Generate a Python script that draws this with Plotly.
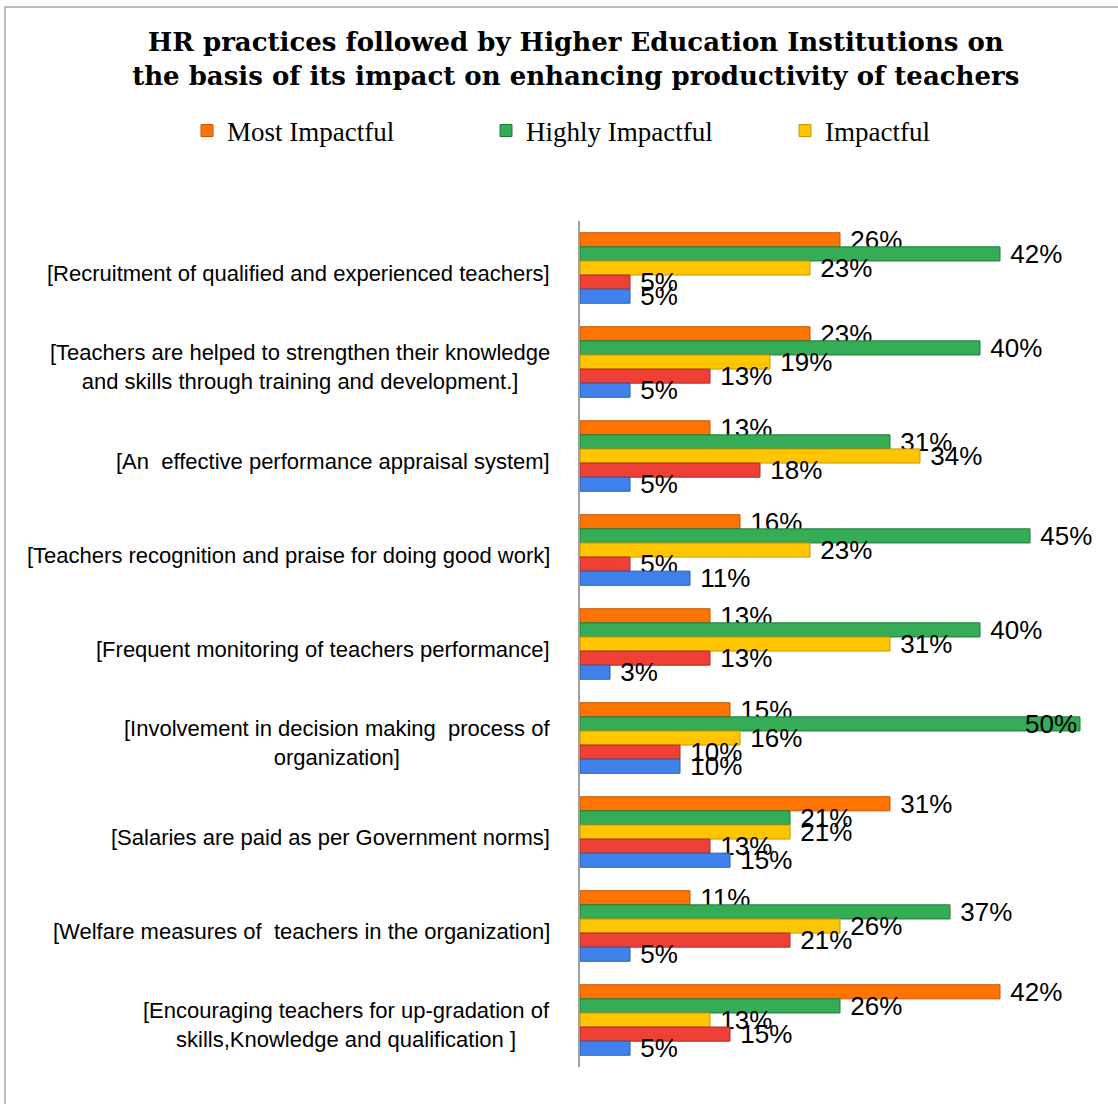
import plotly.graph_objects as go

categories = [
    "[Recruitment of qualified and experienced teachers]",
    "[Teachers are helped to strengthen their knowledge<br>and skills through training and development.]",
    "[An  effective performance appraisal system]",
    "[Teachers recognition and praise for doing good work]",
    "[Frequent monitoring of teachers performance]",
    "[Involvement in decision making  process of<br>organization]",
    "[Salaries are paid as per Government norms]",
    "[Welfare measures of  teachers in the organization]",
    "[Encouraging teachers for up-gradation of<br>skills,Knowledge and qualification ]",
]

most_impactful = [26, 23, 13, 16, 13, 15, 31, 11, 42]
highly_impactful = [42, 40, 31, 45, 40, 50, 21, 37, 26]
impactful = [23, 19, 34, 23, 31, 16, 21, 26, 13]
series4 = [5, 13, 18, 5, 13, 10, 13, 21, 15]
series5 = [5, 5, 5, 11, 3, 10, 15, 5, 5]

series = [
    ("Most Impactful", most_impactful, "#FF7300", "#C55500", True),
    ("Highly Impactful", highly_impactful, "#35AD57", "#1F7A3A", True),
    ("Impactful", impactful, "#FFC600", "#C79600", True),
    ("Less Impactful", series4, "#EE4035", "#A82A22", False),
    ("Least Impactful", series5, "#3F82EC", "#2A5DB0", False),
]

L, R, T, B = 580, 0, 221, 37
W, H = 1118, 1104
pw = W - L - R
ph = H - T - B
XMAX = 53.8

def px2x(px):
    return (px - L) / pw

def px2y(py):
    return (H - B - py) / ph

LBL = dict(family="Liberation Sans, Arial", size=26, color="black")

fig = go.Figure()
for name, vals, col, lcol, show in series:
    tp = ["inside" if v >= 48 else "outside" for v in vals]
    txt = [(f"{v}%" if v >= 48 else f" {v}%") for v in vals]
    fig.add_trace(go.Bar(
        y=categories, x=vals, name=name, orientation="h",
        marker=dict(color=col, line=dict(color=lcol, width=1)),
        text=txt, textposition=tp,
        insidetextanchor="end", constraintext="none",
        textfont=LBL, insidetextfont=LBL, outsidetextfont=LBL,
        cliponaxis=False, showlegend=show,
    ))

annotations = []
for c in categories:
    annotations.append(dict(
        x=px2x(552), xref="paper", y=c, yref="y", xanchor="right", yshift=-5,
        text=c, showarrow=False, align="center",
        font=dict(family="Liberation Sans, Arial", size=22, color="black"),
    ))

fig.update_layout(
    width=W, height=H,
    margin=dict(l=L, r=R, t=T, b=B),
    paper_bgcolor="white", plot_bgcolor="white",
    barmode="group", bargap=0.25, bargroupgap=0,
    title=dict(
        text="HR practices followed by Higher Education Institutions on<br>the basis of its impact on enhancing productivity of teachers",
        x=0.515, xanchor="center", y=1 - 51 / H, yanchor="middle",
        font=dict(family="DejaVu Serif", size=26, color="black", weight="bold"),
    ),
    legend=dict(
        orientation="h", x=px2x(187), xanchor="left", y=px2y(131), yanchor="middle",
        font=dict(family="Liberation Serif, Times New Roman", size=27, color="black"),
        entrywidth=254, entrywidthmode="pixels", itemwidth=30,
        bgcolor="rgba(0,0,0,0)",
    ),
    xaxis=dict(range=[0, XMAX], showgrid=False, showticklabels=False, zeroline=False,
               showline=False, ticks=""),
    yaxis=dict(autorange="reversed", showticklabels=False, showgrid=False, ticks="",
               showline=True, linecolor="#A0A0A0", linewidth=2),
    annotations=annotations,
    shapes=[dict(type="rect", xref="paper", yref="paper",
                 x0=px2x(5), x1=px2x(1130), y0=px2y(1120), y1=px2y(7),
                 line=dict(color="#A6A6A6", width=1.5), fillcolor="rgba(0,0,0,0)",
                 layer="below")],
)

fig.write_html("out.html")
